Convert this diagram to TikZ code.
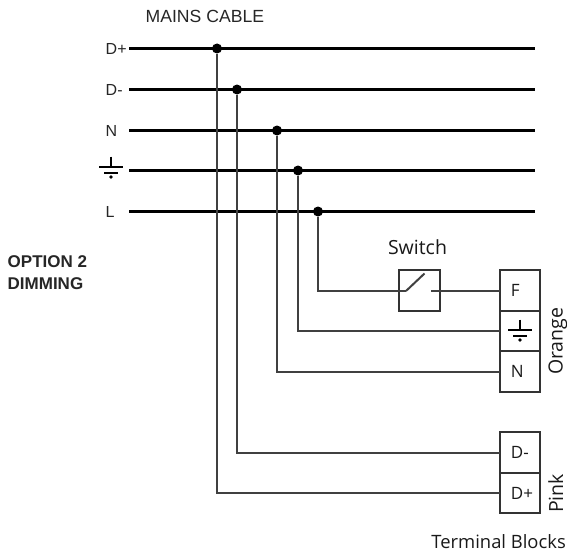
\documentclass[tikz,border=0pt]{standalone}
\usepackage{fontspec}
\setmainfont{Liberation Sans}
\newfontfamily\termfont{Open Sans}
\tikzset{
  x=1pt,y=-1pt,
  bus/.style={line width=3pt},
  wire/.style={line width=2pt,draw=black!75},
  dot/.style={circle,fill=black,inner sep=0pt,minimum size=10pt},
  termbox/.style={draw=black!80,line width=2pt,rectangle,minimum width=40.5pt,minimum height=40.5pt,inner sep=0pt,outer sep=0pt},
  termtext/.style={inner sep=0pt,anchor=west,font=\termfont\fontsize{17pt}{19pt}\selectfont,text=black!90},
  swbox/.style={draw=black!80,line width=2pt,rectangle,minimum width=41pt,minimum height=40.5pt,inner sep=0pt,outer sep=0pt},
  lab/.style={inner sep=0pt,font=\fontsize{16pt}{18pt}\selectfont,text=black!85},
  tlab/.style={inner sep=0pt,font=\termfont\fontsize{19.5pt}{21pt}\selectfont,text=black!90},
  groundmark/.pic={
    \draw[line width=2pt] (0,-10.5) -- (0,0);
    \draw[line width=2pt] (-12,0) -- (12,0);
    \draw[line width=2pt] (-7,5.5) -- (7,5.5);
    \fill (0,10) circle (1.9pt);
  }
}
\begin{document}
\begin{tikzpicture}
\useasboundingbox (0,0) rectangle (567,551);
% bus ends
\foreach \n/\y in {a/48.5,b/89.5,c/130.5,d/170.5,e/211.5}{
  \coordinate (\n s) at (129,\y);
  \coordinate (\n e) at (535,\y);
  \draw[bus] (\n s) -- (\n e);
}
% junctions
\node[dot] (ja) at (217,48.5) {};
\node[dot] (jb) at (237,89.5) {};
\node[dot] (jc) at (277,130.5) {};
\node[dot] (jd) at (298,170.5) {};
\node[dot] (je) at (318,211.5) {};
% labels
\node[lab,anchor=base west,font=\fontsize{17.6pt}{19pt}\selectfont] (title) at (145.5,23) {MAINS CABLE};
\node[lab,anchor=base west] (ldp) at (105.5,54.5) {D+};
\node[lab,anchor=base west] (ldm) at (105.5,95) {D-};
\node[lab,anchor=base west] (ln) at (105.5,136) {N};
\node[lab,anchor=base west] (ll) at (105.5,217) {L};
\pic at (111,167) {groundmark};
\node[lab,anchor=base west,font=\fontsize{17pt}{19pt}\selectfont\bfseries] (opt1) at (7.5,267) {OPTION 2};
\node[lab,anchor=base west,font=\fontsize{17pt}{19pt}\selectfont\bfseries] (opt2) at (7.5,289) {DIMMING};
% terminals
\node[termbox] (tf) at (520,290.5) {};
\node[termbox] (tg) at (520,331) {};
\node[termbox] (tn) at (520,371.5) {};
\node[termbox] (tdm) at (520,452.5) {};
\node[termbox] (tdp) at (520,493) {};
\node[termtext] (lf) at ([xshift=11pt]tf.west) {F};
\node[termtext] (ln2) at ([xshift=11pt]tn.west) {N};
\node[termtext] (ldm2) at ([xshift=11pt]tdm.west) {D-};
\node[termtext] (ldp2) at ([xshift=11pt]tdp.west) {D+};
\pic at (520,330) {groundmark};
\node[tlab,rotate=90,anchor=base west] (orange) at (562.5,375) {Orange};
\node[tlab,rotate=90,anchor=base west] (pink) at (563,513) {Pink};
\node[tlab,anchor=base east,font=\termfont\fontsize{18.4pt}{21pt}\selectfont] (tb) at (566,548) {Terminal Blocks};
% switch
\node[swbox] (sw) at (419,290.5) {};
\node[tlab,anchor=base] (swl) at (417.5,254.5) {Switch};
\coordinate (swa) at (406,291);
\coordinate (swb) at (424.5,273.5);
\coordinate (swc) at (431,291);
\draw[wire] (je) |- (swa);
\draw[wire] (swa) -- (swb);
\draw[wire] (swc) -- (swc -| tf.west);
% drops
\draw[wire] (jd) |- (tg.west);
\draw[wire] (jc) |- (tn.west);
\draw[wire] (jb) |- (tdm.west);
\draw[wire] (ja) |- (tdp.west);
\end{tikzpicture}
\end{document}
